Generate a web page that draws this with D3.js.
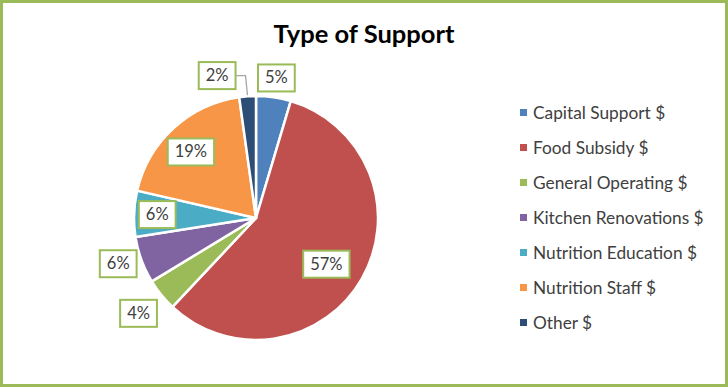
<!DOCTYPE html>
<html><head><meta charset="utf-8">
<script src="https://cdn.jsdelivr.net/npm/d3@7"></script>
<style>body{margin:0;background:#fff}svg{display:block}</style>
</head><body>
<script>
const categories = ["Capital Support $","Food Subsidy $","General Operating $","Kitchen Renovations $","Nutrition Education $","Nutrition Staff $","Other $"];
const values = [4.6, 57.4, 4.3, 6.2, 6.1, 19.2, 2.2];
const labels = ["5%","57%","4%","6%","6%","19%","2%"];
const colors = ["#4F81BD","#C0504D","#9BBB59","#8064A2","#4BACC6","#F79646","#2C4D75"];
const title = "Type of Support";

const W = 728, H = 388;
const FONT = "Lato, 'Open Sans', sans-serif";
const svg = d3.select("body").append("svg").attr("width", W).attr("height", H);
svg.append("rect").attr("x",1.5).attr("y",1.5).attr("width",W-3).attr("height",H-4)
  .attr("fill","#fff").attr("stroke","#9BBB59").attr("stroke-width",3);

svg.append("text").attr("x",364).attr("y",43).attr("text-anchor","middle")
  .attr("font-family",FONT).attr("font-weight","bold")
  .attr("font-size",25.5).attr("fill","#000").text(title);

const cx = 256, cy = 218, R = 122;
const pie = d3.pie().sort(null).value(d => d)(values);
const arc = d3.arc().innerRadius(0).outerRadius(R);
const g = svg.append("g").attr("transform",`translate(${cx},${cy})`);
g.selectAll("path").data(pie).join("path")
  .attr("d", arc).attr("fill",(d,i)=>colors[i])
  .attr("stroke","#fff").attr("stroke-width",2.5).attr("stroke-linejoin","round");

// label placement: radius factor and angular nudge (degrees) from slice centroid
const labelR = [1.16, 0.69, 1.24, 1.19, 0.81, 0.76, 1.21];
const labelDA = [0, 3.4, 0, 1.8, 0, -2.1, -11.3];
const lab = svg.append("g").attr("transform",`translate(${cx},${cy})`);
pie.forEach((d,i)=>{
  const a = (d.startAngle + d.endAngle)/2 + labelDA[i]*Math.PI/180;
  const x = Math.sin(a)*R*labelR[i];
  const y = -Math.cos(a)*R*labelR[i];
  const rect = lab.append("rect");
  const txt = lab.append("text").attr("x",x).attr("y",y+5.5).attr("text-anchor","middle")
    .attr("font-family",FONT).attr("font-size",16.5)
    .attr("fill","#404040").text(labels[i]);
  const w = txt.node().getComputedTextLength() + 14, h = 27;
  rect.attr("x",x-w/2).attr("y",y-h/2).attr("width",w).attr("height",h)
    .attr("fill","#fff").attr("stroke","#9BBB59").attr("stroke-width",2);
  if(i===6){
    const ma = (d.startAngle + d.endAngle)/2;
    const ex = Math.sin(ma)*(R+1), ey = -Math.cos(ma)*(R+1);
    lab.insert("polyline","rect").attr("points",`${x+w/2},${y} ${ex-2},${y} ${ex},${ey}`)
      .attr("fill","none").attr("stroke","#A6A6A6").attr("stroke-width",1.3);
  }
});

const leg = svg.append("g");
categories.forEach((c,i)=>{
  const y = 113 + i*35;
  leg.append("rect").attr("x",520).attr("y",y-4).attr("width",7).attr("height",7).attr("fill",colors[i]);
  leg.append("text").attr("x",533).attr("y",y+5.5).attr("font-family",FONT)
    .attr("font-size",17.3).attr("fill","#404040").text(c);
});
</script>
</body></html>
